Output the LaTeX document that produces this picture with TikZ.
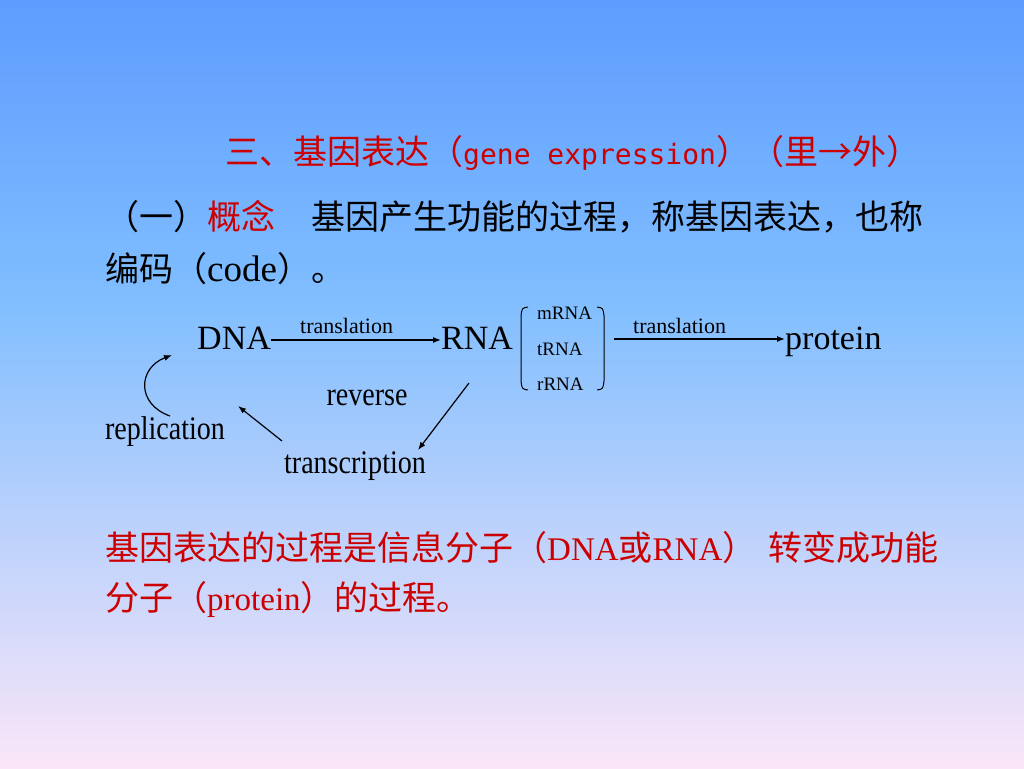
\documentclass[tikz,border=0pt]{standalone}
\usepackage{fontspec}
\usepackage{tikz}
\usetikzlibrary{arrows.meta}
\setmainfont{Liberation Serif}
\setmonofont{DejaVu Sans Mono}
\newfontfamily\zhfont{Noto Sans CJK SC}
\newfontfamily\narrowfont{Liberation Serif}[FakeStretch=0.85]
\definecolor{slidered}{RGB}{204,0,0}
\definecolor{bgtop}{RGB}{94,156,255}
\definecolor{bgmid}{RGB}{128,190,255}
\definecolor{bgbot}{RGB}{250,230,248}
\newcommand{\zh}[1]{{\zhfont #1}}
\newcommand{\lat}[1]{{\fontsize{33}{40}\selectfont #1}}

\tikzset{
  textline/.style={anchor=base west, inner sep=0pt, font=\fontsize{34}{40}\selectfont},
  molecule/.style={anchor=base west, inner sep=0pt, font=\fontsize{34}{40}\selectfont},
  process/.style={inner sep=0pt, font=\fontsize{33}{38}\selectfont\narrowfont},
  arrowlabel/.style={anchor=base west, inner sep=0pt, font=\fontsize{22}{26}\selectfont},
  rnakind/.style={anchor=base west, inner sep=0pt, font=\fontsize{19}{22}\selectfont},
  arr/.style={-{Latex[length=8pt,width=6pt]}, line width=1.2pt},
}

\begin{document}
\begin{tikzpicture}[x=1pt,y=-1pt]
    \useasboundingbox (0,0) rectangle (1024,768);
    % background
    \shade[top color=bgtop, bottom color=bgmid] (0,0) rectangle (1024,300);
    \shade[top color=bgmid, bottom color=bgbot] (0,299) rectangle (1024,768);

    % heading and text
    \node[textline, text=slidered] (title) at (225,164)
        {\zh{三、基因表达（}{\fontsize{28}{34}\selectfont\ttfamily gene expression}\zh{）（里→外）}};
    \node[textline] (concept) at (105,229)
        {\zh{（一）\textcolor{slidered}{概念}}\hspace{36pt}\zh{基因产生功能的过程，称基因表达，也称}};
    \node[textline] (code) at (105,281)
        {\zh{编码（}{\fontsize{37}{40}\selectfont code}\zh{）。}};

    % the diagram
    \node[molecule] (dna) at (197,349) {DNA};
    \node[molecule] (rna) at (441,349) {RNA};
    \node[molecule] (protein) at (785,349) {protein};
    \node[arrowlabel] (trans1) at (300,333) {translation};
    \node[arrowlabel] (trans2) at (633,333) {translation};
    \node[rnakind] (mrna) at (537,319) {mRNA};
    \node[rnakind] (trna) at (537,355) {tRNA};
    \node[rnakind] (rrna) at (537,390) {rRNA};
    \node[process] (reverse) at (367,398) {reverse};
    \node[process] (transcription) at (355,466) {transcription};
    \node[process] (replication) at (165,432) {replication};

    \draw[arr] (dna.east |- 0,340) -- (rna.west |- 0,340);
    \coordinate (kinds) at (614,339);
    \draw[arr] (kinds) -- (protein.west |- kinds);
    \draw[line width=1pt] (528,307) .. controls (522,308) .. (521,316) -- (521,381) .. controls (522,389) .. (528,390);
    \draw[line width=1pt] (597,307) .. controls (603,308) .. (604,316) -- (604,381) .. controls (603,389) .. (597,390);

    \coordinate (replfrom) at (170,416);
    \coordinate (replto) at (172,355);
    \draw[arr] (replfrom) .. controls (136,404) and (138,368) .. (replto);
    \coordinate (revfrom) at (469,383);
    \coordinate (revto) at (418,450);
    \draw[arr] (revfrom) -- (revto);
    \coordinate (backfrom) at (282,441);
    \coordinate (backto) at (238,406);
    \draw[arr] (backfrom) -- (backto);

    % red summary
    \node[textline, text=slidered] (sum1) at (105,560)
        {\zh{基因表达的过程是信息分子（}\lat{DNA}\zh{或}\lat{RNA}\zh{）}\hspace{12pt}\zh{转变成功能}};
    \node[textline, text=slidered] (sum2) at (105,610)
        {\zh{分子（}\lat{protein}\zh{）的过程。}};
\end{tikzpicture}
\end{document}
